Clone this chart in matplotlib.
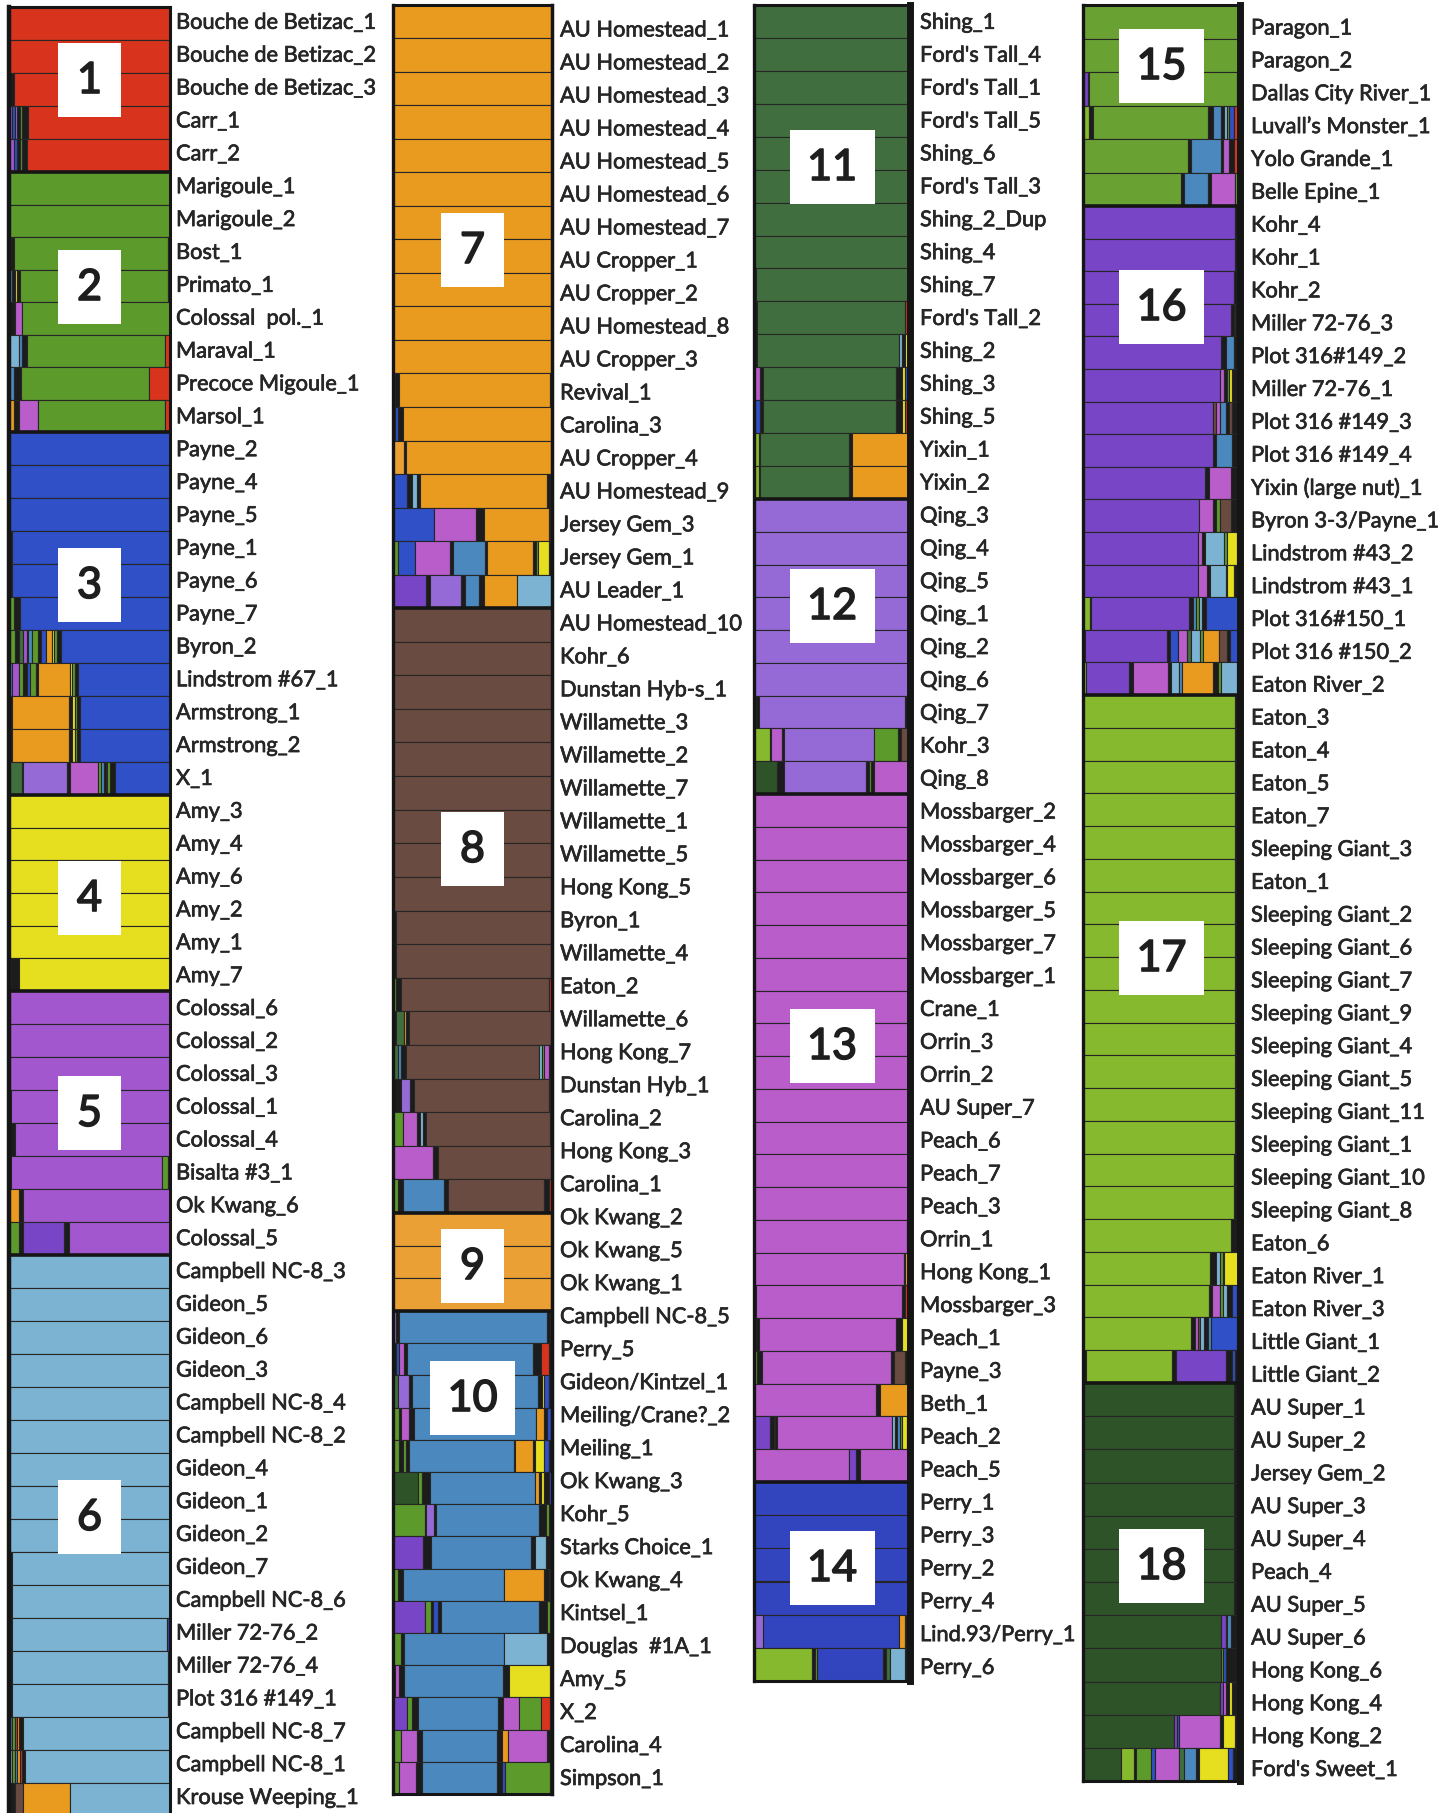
import matplotlib
matplotlib.use("Agg")
import matplotlib.pyplot as plt
import matplotlib.transforms as mtransforms
import matplotlib.patheffects as pe
from matplotlib.patches import Rectangle

# cluster colours (0 = the dark slivers between segments)
cluster_colors = {
    0: '#1c1c1c', 1: '#d8331d', 2: '#5c9a2c', 3: '#2f50c6', 4: '#e6df1f',
    5: '#a257cf', 6: '#7cb3d2', 7: '#e99b20', 8: '#6a4b41', 9: '#eaa034',
    10: '#4a88bd', 11: '#416e3e', 12: '#956ad6', 13: '#b85dc9', 14: '#3344bf',
    15: '#6aa133', 16: '#7745c6', 17: '#86b92d', 18: '#2e5329',
}

col1_labels = [
    "Bouche de Betizac_1", "Bouche de Betizac_2", "Bouche de Betizac_3", "Carr_1", "Carr_2",
    "Marigoule_1", "Marigoule_2", "Bost_1", "Primato_1", "Colossal  pol._1", "Maraval_1",
    "Precoce Migoule_1", "Marsol_1", "Payne_2", "Payne_4", "Payne_5", "Payne_1", "Payne_6",
    "Payne_7", "Byron_2", "Lindstrom #67_1", "Armstrong_1", "Armstrong_2", "X_1",
    "Amy_3", "Amy_4", "Amy_6", "Amy_2", "Amy_1", "Amy_7", "Colossal_6", "Colossal_2",
    "Colossal_3", "Colossal_1", "Colossal_4", "Bisalta #3_1", "Ok Kwang_6", "Colossal_5",
    "Campbell NC-8_3", "Gideon_5", "Gideon_6", "Gideon_3", "Campbell NC-8_4", "Campbell NC-8_2",
    "Gideon_4", "Gideon_1", "Gideon_2", "Gideon_7", "Campbell NC-8_6", "Miller 72-76_2",
    "Miller 72-76_4", "Plot 316 #149_1", "Campbell NC-8_7", "Campbell NC-8_1", "Krouse Weeping_1",
]
col1_comps = [
    [(1, 1)], [(1, 1)], [(0, 0.03), (1, 0.97)],
    [(5, 0.02), (3, 0.015), (12, 0.015), (0, 0.02), (2, 0.01), (0, 0.04), (1, 0.88)],
    [(5, 0.03), (3, 0.02), (0, 0.02), (2, 0.01), (0, 0.03), (1, 0.89)],
    [(2, 1)], [(2, 1)],
    [(7, 0.01), (0, 0.02), (2, 0.96), (1, 0.01)],
    [(10, 0.02), (0, 0.02), (4, 0.01), (0, 0.02), (2, 0.92), (1, 0.01)],
    [(0, 0.04), (13, 0.04), (2, 0.92)],
    [(6, 0.06), (10, 0.02), (0, 0.03), (2, 0.86), (1, 0.03)],
    [(10, 0.03), (0, 0.04), (2, 0.78), (1, 0.13)],
    [(7, 0.03), (0, 0.03), (13, 0.12), (2, 0.79), (1, 0.03)],
    [(3, 1)], [(3, 1)], [(3, 1)], [(0, 0.02), (3, 0.98)], [(0, 0.02), (3, 0.98)],
    [(2, 0.03), (0, 0.04), (3, 0.93)],
    [(2, 0.04), (0, 0.02), (11, 0.03), (5, 0.02), (0, 0.01), (10, 0.02), (2, 0.04), (0, 0.02),
     (3, 0.03), (7, 0.04), (4, 0.01), (2, 0.02), (0, 0.02), (3, 0.68)],
    [(10, 0.02), (5, 0.04), (2, 0.03), (0, 0.02), (3, 0.02), (2, 0.04), (0, 0.01), (7, 0.2),
     (4, 0.01), (2, 0.02), (0, 0.02), (3, 0.57)],
    [(0, 0.02), (7, 0.35), (0, 0.02), (4, 0.02), (2, 0.01), (0, 0.02), (3, 0.56)],
    [(0, 0.02), (7, 0.35), (0, 0.02), (4, 0.02), (2, 0.01), (0, 0.02), (3, 0.56)],
    [(11, 0.08), (0, 0.01), (12, 0.27), (0, 0.02), (13, 0.17), (2, 0.02), (10, 0.02), (0, 0.01),
     (4, 0.01), (2, 0.02), (0, 0.03), (3, 0.34)],
    [(4, 1)], [(4, 1)], [(4, 1)], [(4, 1)], [(4, 1)], [(10, 0.01), (0, 0.05), (4, 0.94)],
    [(5, 1)], [(5, 1)], [(5, 1)], [(7, 0.01), (5, 0.99)], [(0, 0.04), (5, 0.96)],
    [(7, 0.01), (5, 0.94), (2, 0.04), (1, 0.01)],
    [(7, 0.06), (0, 0.03), (5, 0.91)],
    [(2, 0.06), (0, 0.03), (16, 0.25), (0, 0.03), (5, 0.63)],
    [(6, 1)], [(6, 1)], [(6, 1)], [(6, 1)], [(6, 1)], [(6, 1)], [(6, 1)], [(6, 1)], [(6, 1)],
    [(0, 0.02), (6, 0.98)],
    [(0, 0.02), (6, 0.98)],
    [(0, 0.02), (6, 0.96), (14, 0.02)],
    [(0, 0.02), (6, 0.97), (3, 0.01)],
    [(0, 0.02), (6, 0.97), (3, 0.01)],
    [(10, 0.02), (2, 0.02), (1, 0.01), (7, 0.01), (0, 0.03), (6, 0.91)],
    [(6, 0.02), (2, 0.02), (10, 0.01), (7, 0.02), (1, 0.01), (0, 0.02), (6, 0.90)],
    [(0, 0.04), (8, 0.05), (7, 0.29), (6, 0.62)],
]

col2_labels = [
    "AU Homestead_1", "AU Homestead_2", "AU Homestead_3", "AU Homestead_4", "AU Homestead_5",
    "AU Homestead_6", "AU Homestead_7", "AU Cropper_1", "AU Cropper_2", "AU Homestead_8",
    "AU Cropper_3", "Revival_1", "Carolina_3", "AU Cropper_4", "AU Homestead_9", "Jersey Gem_3",
    "Jersey Gem_1", "AU Leader_1", "AU Homestead_10", "Kohr_6", "Dunstan Hyb-s_1",
    "Willamette_3", "Willamette_2", "Willamette_7", "Willamette_1", "Willamette_5",
    "Hong Kong_5", "Byron_1", "Willamette_4", "Eaton_2", "Willamette_6", "Hong Kong_7",
    "Dunstan Hyb_1", "Carolina_2", "Hong Kong_3", "Carolina_1", "Ok Kwang_2", "Ok Kwang_5",
    "Ok Kwang_1", "Campbell NC-8_5", "Perry_5", "Gideon/Kintzel_1", "Meiling/Crane?_2",
    "Meiling_1", "Ok Kwang_3", "Kohr_5", "Starks Choice_1", "Ok Kwang_4", "Kintsel_1",
    "Douglas  #1A_1", "Amy_5", "X_2", "Carolina_4", "Simpson_1",
]
col2_comps = [
    [(7, 1)], [(7, 1)], [(7, 1)], [(7, 1)], [(7, 1)], [(7, 1)], [(7, 1)], [(7, 1)], [(7, 1)],
    [(7, 1)], [(7, 1)],
    [(2, 0.01), (0, 0.03), (7, 0.95), (0, 0.01)],
    [(5, 0.01), (3, 0.02), (0, 0.03), (7, 0.94)],
    [(9, 0.07), (0, 0.01), (7, 0.92)],
    [(3, 0.09), (0, 0.03), (6, 0.03), (0, 0.02), (7, 0.80), (0, 0.02), (2, 0.01)],
    [(3, 0.26), (13, 0.26), (0, 0.05), (7, 0.41), (0, 0.01), (10, 0.01)],
    [(2, 0.03), (3, 0.11), (13, 0.22), (0, 0.02), (10, 0.2), (0, 0.01), (7, 0.29), (0, 0.02),
     (2, 0.01), (4, 0.07), (0, 0.02)],
    [(16, 0.21), (0, 0.02), (12, 0.2), (0, 0.02), (10, 0.09), (0, 0.03), (7, 0.21), (6, 0.22)],
    [(8, 1)], [(8, 1)], [(8, 1)], [(8, 1)], [(8, 1)], [(8, 1)], [(8, 1)], [(8, 1)], [(8, 1)],
    [(0, 0.02), (8, 0.98)],
    [(0, 0.02), (8, 0.98)],
    [(2, 0.02), (0, 0.03), (8, 0.93), (1, 0.02)],
    [(0, 0.02), (11, 0.05), (7, 0.01), (0, 0.02), (8, 0.90)],
    [(11, 0.03), (10, 0.02), (0, 0.03), (8, 0.84), (6, 0.02), (2, 0.01), (13, 0.03), (0, 0.02)],
    [(0, 0.05), (12, 0.06), (0, 0.02), (8, 0.85), (4, 0.01), (0, 0.01)],
    [(2, 0.06), (13, 0.09), (0, 0.02), (6, 0.02), (0, 0.02), (8, 0.78), (4, 0.01)],
    [(13, 0.25), (0, 0.03), (8, 0.72)],
    [(2, 0.03), (0, 0.03), (10, 0.26), (0, 0.02), (8, 0.6), (0, 0.03), (1, 0.02)],
    [(9, 1)], [(9, 1)], [(9, 1)],
    [(12, 0.02), (0, 0.02), (10, 0.93), (0, 0.02), (2, 0.01)],
    [(0, 0.02), (3, 0.02), (13, 0.03), (0, 0.02), (10, 0.79), (0, 0.05), (1, 0.05), (0, 0.02)],
    [(11, 0.03), (12, 0.07), (0, 0.02), (10, 0.79), (0, 0.03), (4, 0.01), (3, 0.03), (0, 0.02)],
    [(2, 0.04), (0, 0.01), (13, 0.05), (0, 0.03), (10, 0.77), (7, 0.05), (0, 0.02), (3, 0.03)],
    [(2, 0.04), (0, 0.02), (2, 0.02), (0, 0.02), (10, 0.66), (0, 0.01), (7, 0.11), (0, 0.01),
     (4, 0.06), (3, 0.03), (0, 0.02)],
    [(18, 0.16), (2, 0.02), (0, 0.05), (10, 0.66), (7, 0.03), (0, 0.01), (4, 0.02), (0, 0.03),
     (3, 0.02)],
    [(2, 0.2), (0, 0.01), (12, 0.05), (0, 0.01), (10, 0.65), (0, 0.04), (2, 0.02), (0, 0.02)],
    [(16, 0.19), (0, 0.05), (10, 0.63), (0, 0.02), (6, 0.07), (0, 0.04)],
    [(2, 0.03), (0, 0.03), (10, 0.64), (7, 0.25), (0, 0.03), (13, 0.01), (0, 0.01)],
    [(16, 0.2), (2, 0.04), (0, 0.01), (3, 0.03), (0, 0.02), (10, 0.62), (0, 0.05), (2, 0.02),
     (0, 0.01)],
    [(2, 0.05), (0, 0.02), (10, 0.63), (6, 0.27), (0, 0.03)],
    [(0, 0.01), (13, 0.03), (0, 0.03), (10, 0.62), (0, 0.04), (4, 0.26), (0, 0.01)],
    [(16, 0.09), (2, 0.03), (0, 0.04), (10, 0.5), (0, 0.03), (13, 0.1), (2, 0.14), (1, 0.06),
     (0, 0.01)],
    [(2, 0.05), (13, 0.1), (0, 0.03), (10, 0.46), (0, 0.03), (7, 0.04), (13, 0.24), (0, 0.03)],
    [(2, 0.04), (13, 0.1), (0, 0.04), (10, 0.46), (0, 0.03), (3, 0.02), (2, 0.28), (0, 0.01)],
]

col3_labels = [
    "Shing_1", "Ford's Tall_4", "Ford's Tall_1", "Ford's Tall_5", "Shing_6", "Ford's Tall_3",
    "Shing_2_Dup", "Shing_4", "Shing_7", "Ford's Tall_2", "Shing_2", "Shing_3", "Shing_5",
    "Yixin_1", "Yixin_2", "Qing_3", "Qing_4", "Qing_5", "Qing_1", "Qing_2", "Qing_6", "Qing_7",
    "Kohr_3", "Qing_8", "Mossbarger_2", "Mossbarger_4", "Mossbarger_6", "Mossbarger_5",
    "Mossbarger_7", "Mossbarger_1", "Crane_1", "Orrin_3", "Orrin_2", "AU Super_7", "Peach_6",
    "Peach_7", "Peach_3", "Orrin_1", "Hong Kong_1", "Mossbarger_3", "Peach_1", "Payne_3",
    "Beth_1", "Peach_2", "Peach_5", "Perry_1", "Perry_3", "Perry_2", "Perry_4",
    "Lind.93/Perry_1", "Perry_6",
]
col3_comps = [
    [(11, 1)], [(11, 1)], [(11, 1)], [(11, 1)], [(11, 1)], [(11, 1)], [(11, 1)], [(11, 1)],
    [(0, 0.01), (11, 0.99)],
    [(0, 0.02), (11, 0.95), (1, 0.01), (0, 0.02)],
    [(0, 0.02), (11, 0.9), (6, 0.02), (0, 0.02), (4, 0.02), (2, 0.01)],
    [(13, 0.04), (0, 0.02), (11, 0.85), (0, 0.04), (4, 0.02), (3, 0.03)],
    [(3, 0.04), (0, 0.02), (11, 0.85), (0, 0.04), (4, 0.02), (1, 0.01), (0, 0.02)],
    [(17, 0.03), (0, 0.01), (11, 0.57), (0, 0.02), (7, 0.37)],
    [(17, 0.03), (0, 0.01), (11, 0.57), (0, 0.02), (7, 0.37)],
    [(12, 1)], [(12, 1)], [(12, 1)], [(12, 1)], [(12, 1)], [(12, 1)],
    [(10, 0.01), (0, 0.02), (12, 0.93), (0, 0.02), (2, 0.01)],
    [(17, 0.1), (0, 0.01), (13, 0.07), (0, 0.01), (12, 0.58), (2, 0.15), (0, 0.02), (8, 0.05),
     (0, 0.01)],
    [(18, 0.15), (0, 0.04), (12, 0.53), (0, 0.02), (2, 0.01), (0, 0.02), (13, 0.22), (3, 0.01)],
    [(13, 1)], [(13, 1)], [(13, 1)], [(13, 1)], [(13, 1)], [(13, 1)], [(13, 1)], [(13, 1)],
    [(13, 1)], [(13, 1)], [(13, 1)], [(13, 1)], [(13, 1)],
    [(13, 0.97), (10, 0.01), (2, 0.01)],
    [(13, 0.95), (0, 0.01), (7, 0.03)],
    [(0, 0.01), (13, 0.94), (0, 0.02), (1, 0.03)],
    [(2, 0.01), (0, 0.02), (13, 0.88), (0, 0.04), (4, 0.05)],
    [(2, 0.02), (0, 0.03), (13, 0.83), (0, 0.02), (8, 0.07), (0, 0.03)],
    [(13, 0.78), (0, 0.03), (7, 0.19)],
    [(16, 0.1), (0, 0.02), (2, 0.01), (0, 0.01), (13, 0.7), (6, 0.02), (0, 0.01), (10, 0.02),
     (2, 0.01), (4, 0.03), (0, 0.01), (2, 0.01)],
    [(13, 0.6), (16, 0.05), (0, 0.02), (13, 0.32)],
    [(14, 1)], [(14, 1)], [(14, 1)], [(14, 1)],
    [(12, 0.06), (14, 0.86), (7, 0.04), (0, 0.01), (4, 0.02)],
    [(17, 0.37), (0, 0.02), (2, 0.01), (14, 0.42), (0, 0.02), (11, 0.02), (6, 0.1), (0, 0.02),
     (7, 0.01)],
]

col4_labels = [
    "Paragon_1", "Paragon_2", "Dallas City River_1", "Luvall\u2019s Monster_1", "Yolo Grande_1",
    "Belle Epine_1", "Kohr_4", "Kohr_1", "Kohr_2", "Miller 72-76_3", "Plot 316#149_2",
    "Miller 72-76_1", "Plot 316 #149_3", "Plot 316 #149_4", "Yixin (large nut)_1",
    "Byron 3-3/Payne_1", "Lindstrom #43_2", "Lindstrom #43_1", "Plot 316#150_1",
    "Plot 316 #150_2", "Eaton River_2", "Eaton_3", "Eaton_4", "Eaton_5", "Eaton_7",
    "Sleeping Giant_3", "Eaton_1", "Sleeping Giant_2", "Sleeping Giant_6", "Sleeping Giant_7",
    "Sleeping Giant_9", "Sleeping Giant_4", "Sleeping Giant_5", "Sleeping Giant_11",
    "Sleeping Giant_1", "Sleeping Giant_10", "Sleeping Giant_8", "Eaton_6", "Eaton River_1",
    "Eaton River_3", "Little Giant_1", "Little Giant_2", "AU Super_1", "AU Super_2",
    "Jersey Gem_2", "AU Super_3", "AU Super_4", "Peach_4", "AU Super_5", "AU Super_6",
    "Hong Kong_6", "Hong Kong_4", "Hong Kong_2", "Ford's Sweet_1",
]
col4_comps = [
    [(15, 1)], [(15, 0.99), (0, 0.01)],
    [(16, 0.03), (0, 0.01), (15, 0.94), (0, 0.02)],
    [(17, 0.04), (0, 0.02), (15, 0.72), (0, 0.03), (10, 0.05), (0, 0.02), (6, 0.02), (2, 0.01),
     (3, 0.03), (1, 0.04)],
    [(15, 0.67), (0, 0.02), (10, 0.19), (0, 0.01), (13, 0.04), (0, 0.03), (1, 0.04)],
    [(15, 0.62), (0, 0.02), (10, 0.15), (0, 0.02), (13, 0.15), (2, 0.03)],
    [(16, 0.97), (0, 0.03)], [(16, 0.97), (0, 0.03)], [(16, 0.96), (0, 0.02), (2, 0.02)],
    [(16, 0.94), (0, 0.02), (10, 0.01), (0, 0.03)],
    [(16, 0.88), (0, 0.03), (10, 0.05), (0, 0.04)],
    [(16, 0.87), (13, 0.03), (0, 0.02), (2, 0.01), (4, 0.02), (0, 0.05)],
    [(16, 0.83), (8, 0.02), (13, 0.02), (10, 0.04), (0, 0.02), (8, 0.02), (0, 0.05)],
    [(16, 0.83), (0, 0.02), (10, 0.1), (0, 0.05)],
    [(16, 0.78), (0, 0.02), (13, 0.14), (0, 0.06)],
    [(16, 0.74), (13, 0.09), (0, 0.02), (2, 0.02), (8, 0.07), (0, 0.06)],
    [(16, 0.73), (13, 0.03), (0, 0.02), (6, 0.12), (2, 0.02), (4, 0.06), (0, 0.02)],
    [(16, 0.73), (13, 0.06), (0, 0.02), (6, 0.1), (2, 0.01), (4, 0.04), (0, 0.04)],
    [(17, 0.04), (0, 0.01), (16, 0.6), (0, 0.02), (10, 0.02), (2, 0.02), (6, 0.02), (0, 0.02),
     (3, 0.21)],
    [(0, 0.01), (16, 0.51), (0, 0.02), (3, 0.05), (13, 0.05), (11, 0.03), (6, 0.05), (2, 0.02),
     (7, 0.1), (8, 0.05), (0, 0.02), (3, 0.06)],
    [(17, 0.02), (16, 0.27), (0, 0.02), (13, 0.22), (0, 0.02), (6, 0.05), (10, 0.02), (7, 0.19),
     (0, 0.03), (2, 0.02), (6, 0.1), (1, 0.02)],
    [(17, 0.97), (0, 0.03)], [(17, 0.97), (0, 0.03)], [(17, 0.97), (0, 0.03)],
    [(17, 0.97), (0, 0.03)], [(17, 0.97), (0, 0.03)], [(17, 0.97), (0, 0.03)],
    [(17, 0.97), (0, 0.03)], [(17, 0.97), (0, 0.03)], [(17, 0.97), (0, 0.03)],
    [(17, 0.97), (0, 0.03)], [(17, 0.97), (0, 0.03)], [(17, 0.97), (0, 0.03)],
    [(17, 0.97), (0, 0.03)], [(17, 0.97), (0, 0.03)], [(17, 0.96), (0, 0.04)],
    [(17, 0.96), (0, 0.04)],
    [(17, 0.94), (0, 0.06)],
    [(17, 0.81), (0, 0.04), (6, 0.02), (2, 0.02), (0, 0.01), (4, 0.09), (0, 0.01)],
    [(17, 0.8), (0, 0.02), (13, 0.05), (2, 0.02), (6, 0.03), (0, 0.03), (3, 0.03), (0, 0.02)],
    [(17, 0.67), (0, 0.02), (13, 0.02), (8, 0.01), (6, 0.03), (0, 0.02), (10, 0.02), (3, 0.16),
     (0, 0.02)],
    [(0, 0.02), (17, 0.55), (0, 0.02), (16, 0.32), (0, 0.04), (3, 0.02), (0, 0.03)],
    [(18, 0.96), (0, 0.04)], [(18, 0.96), (0, 0.04)], [(18, 0.96), (0, 0.04)],
    [(18, 0.96), (0, 0.04)], [(18, 0.96), (0, 0.04)], [(18, 0.96), (0, 0.04)],
    [(18, 0.96), (0, 0.04)],
    [(18, 0.88), (16, 0.03), (0, 0.01), (10, 0.02), (0, 0.06)],
    [(18, 0.88), (2, 0.01), (3, 0.02), (0, 0.09)],
    [(18, 0.87), (16, 0.02), (13, 0.02), (0, 0.02), (4, 0.02), (0, 0.05)],
    [(18, 0.58), (16, 0.02), (3, 0.01), (13, 0.26), (0, 0.02), (4, 0.08), (0, 0.03)],
    [(18, 0.22), (17, 0.08), (0, 0.01), (2, 0.09), (3, 0.02), (13, 0.14), (11, 0.03), (10, 0.07),
     (0, 0.02), (4, 0.17), (3, 0.03), (0, 0.04)],
]

# first row of each cluster block (plus the row count at the end)
col1_groups = [0, 5, 13, 24, 30, 38, 55]
col2_groups = [0, 18, 36, 39, 54]
col3_groups = [0, 15, 24, 45, 51]
col4_groups = [0, 6, 21, 42, 54]

# ---- layout (pixels of the 1455 x 1813 picture) ----
W, H = 1455, 1813
FONT = ['Lato', 'DejaVu Sans']
# block edges in y, bar x range, label x, first/last label y
col1_edges = [7, 172, 432, 795, 991, 1255, 1816]
col2_edges = [5, 608, 1213, 1311, 1794]
col3_edges = [5, 499, 794, 1482, 1681]
col4_edges = [5, 206, 695, 1383, 1781]
# cluster number boxes: (text, centre y)
col1_boxes = [("1", 80), ("2", 287), ("3", 585), ("4", 898), ("5", 1113), ("6", 1517)]
col2_boxes = [("7", 250), ("8", 849), ("9", 1266), ("10", 1398)]
col3_boxes = [("11", 167), ("12", 606), ("13", 1046), ("14", 1568)]
col4_boxes = [("15", 66), ("16", 307), ("17", 958), ("18", 1566)]


def row_spans(groups, edges):
    spans = []
    for g in range(len(groups) - 1):
        size = groups[g + 1] - groups[g]
        h = (edges[g + 1] - edges[g]) / size
        for k in range(size):
            spans.append((edges[g] + k * h, h))
    return spans


def draw_column(fig, labels, comps, groups, edges, x0, x1, label_x, label_y0, label_y1,
                boxes, right_lw, left_lw=2.4):
    n = len(labels)
    wpx = x1 - x0
    top, bottom = edges[0], edges[-1]
    ax = fig.add_axes([x0 / W, 1 - bottom / H, wpx / W, (bottom - top) / H])
    spans = row_spans(groups, edges)
    for i, comp in enumerate(comps):
        y, h = spans[i]
        total = sum(f for c, f in comp)
        left = 0.0
        for c, f in comp:
            w = f / total
            ax.barh(y + h / 2, w, left=left, height=h, color=cluster_colors[c],
                    edgecolor='#262626', linewidth=0.8)
            left += w
    for e in edges[1:-1]:
        ax.axhline(e, color='#151515', linewidth=2.6)
    ax.set_xlim(0, 1)
    ax.set_ylim(bottom, top)
    ax.set_xticks([])
    ax.set_yticks([])
    for side, spine in ax.spines.items():
        spine.set_linewidth(2.2)
        spine.set_color('#151515')
    ax.spines['right'].set_linewidth(right_lw)
    ax.spines['left'].set_linewidth(left_lw)

    trans = mtransforms.blended_transform_factory(ax.transAxes, ax.transData)
    lx = 1 + (label_x - x1) / wpx
    step = (label_y1 - label_y0) / (n - 1)
    for i, lab in enumerate(labels):
        ax.text(lx, label_y0 + i * step + 2, lab, transform=trans, ha='left', va='center',
                fontsize=15.7, color='#262626', family=FONT, clip_on=False,
                path_effects=[pe.withStroke(linewidth=0.5, foreground='#262626')])

    for num, yc in boxes:
        bw = (63 if len(num) == 1 else 85) / wpx
        bh = 74
        ax.add_patch(Rectangle((0.5 - bw / 2, yc - bh / 2), bw, bh, facecolor='white',
                               edgecolor='none', zorder=5))
        ax.text(0.5, yc + 1, num, ha='center', va='center', fontsize=31,
                color='#1e1e1e', family=FONT, zorder=6,
                path_effects=[pe.withStroke(linewidth=1.2, foreground='#1e1e1e')])
    return ax


fig = plt.figure(figsize=(W / 100, H / 100), dpi=100)
fig.patch.set_facecolor('white')

draw_column(fig, col1_labels, col1_comps, col1_groups, col1_edges, 9, 170, 176, 20.8, 1796,
            col1_boxes, 2.2, left_lw=3.2)
draw_column(fig, col2_labels, col2_comps, col2_groups, col2_edges, 393, 552, 560, 28.5, 1777,
            col2_boxes, 2.5)
draw_column(fig, col3_labels, col3_comps, col3_groups, col3_edges, 754, 910, 920, 20.8, 1666,
            col3_boxes, 5)
draw_column(fig, col4_labels, col4_comps, col4_groups, col4_edges, 1083, 1240, 1251, 26.5, 1768,
            col4_boxes, 5)

fig.savefig('out.png', dpi=100, facecolor='white')
